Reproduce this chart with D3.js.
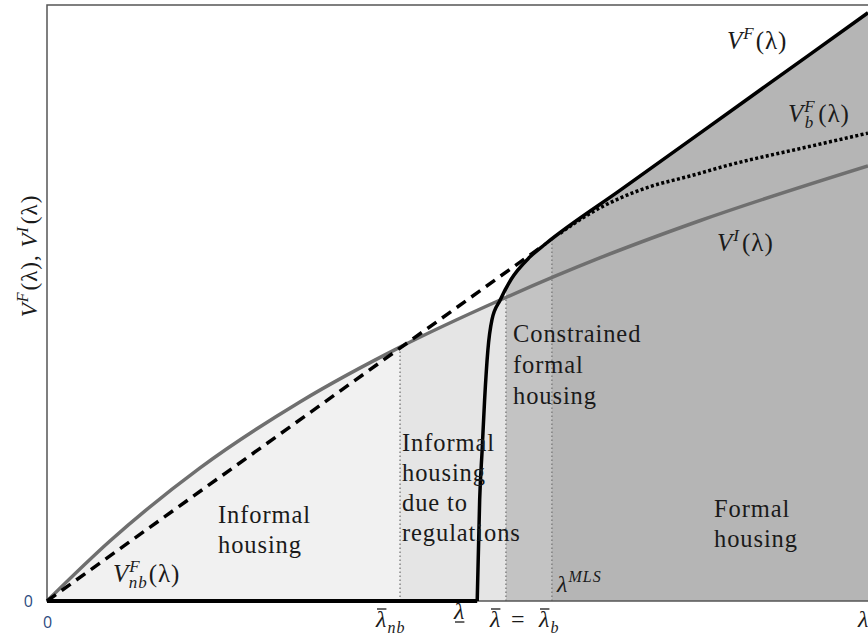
<!DOCTYPE html>
<html>
<head>
<meta charset="utf-8">
<script src="https://cdn.jsdelivr.net/npm/d3@7"></script>
<style>
  body { margin: 0; background: #fff; }
  svg { display: block; }
</style>
</head>
<body>
<svg id="chart" width="868" height="639"></svg>
<script>
// values (lambda on x, value on y, both 0..100)
const informalValue = [[0, 0], [7.7, 10.1], [18.6, 22.3], [30.8, 33.4], [43.0, 42.6],
  [55.2, 50.5], [67.4, 57.6], [79.5, 63.8], [100, 73.0]];
const formalNoBinding = [[0, 0], [60.7, 59.9]];
const formalFlat = [[0, 0], [52.4, 0]];
const formalValue = [[52.4, 0], [52.7, 17.0], [53.0, 25.3], [53.3, 33.7], [53.7, 42.1],
  [54.2, 47.2], [55.2, 50.5], [56.5, 53.9], [58.8, 57.7], [60.7, 59.9], [70, 69.1],
  [85, 83.9], [100, 98.7]];
const formalBinding = [[62.5, 61.7], [66.1, 65.0], [69.8, 67.6], [73.4, 69.5], [78.3, 71.3],
  [83.2, 73.2], [91.7, 75.9], [100, 78.5]];
// thresholds: lambda-bar_nb, lambda-bar, lambda^MLS, and the height each dotted line reaches
const cutoffs = [43.0, 55.9, 61.5];
const cutoffTops = [42.6, 50.9, 60.6];
const regionBounds = [0, 43.0, 55.9, 61.5, 104];

const serif = "'Liberation Serif', 'Times New Roman', serif";
const margin = { top: 5, left: 47 };
const svg = d3.select("#chart");

const x = d3.scaleLinear().domain([0, 100]).range([margin.left, 868]);
const y = d3.scaleLinear().domain([0, 100]).range([601, margin.top]);

const curve = d3.curveMonotoneX;
const line = d3.line().x(d => x(d[0])).y(d => y(d[1])).curve(curve);
const area = d3.area().x(d => x(d[0])).y0(y(0)).y1(d => y(d[1])).curve(curve);

// shaded regions: first two sit under V^I, the last two under V^F
const fills = ["#f1f1f1", "#e5e5e5", "#c3c3c3", "#b5b5b5"];
const defs = svg.append("defs");
regionBounds.slice(0, -1).forEach((b, i) => {
  defs.append("clipPath").attr("id", "clip" + i)
    .append("rect")
    .attr("x", x(b)).attr("y", 0)
    .attr("width", x(regionBounds[i + 1]) - x(b))
    .attr("height", y(0));
});
const formalArea = formalFlat.concat(formalValue.slice(1));
fills.forEach((f, i) => {
  svg.append("path")
    .datum(i < 2 ? informalValue : formalArea)
    .attr("clip-path", `url(#clip${i})`)
    .attr("d", area)
    .attr("fill", f);
});

// dotted threshold lines
svg.selectAll(".cut")
  .data(cutoffs)
  .enter()
  .append("line")
  .attr("class", "cut")
  .attr("x1", d => x(d)).attr("x2", d => x(d))
  .attr("y1", y(0)).attr("y2", (d, i) => y(cutoffTops[i]))
  .attr("stroke", "#777")
  .attr("stroke-width", 1.3)
  .attr("stroke-dasharray", "1.5,2.5");

// frame
svg.append("path")
  .attr("d", `M${x(104)},${y(100)}H${x(0)}V${y(0)}H${x(104)}`)
  .attr("fill", "none")
  .attr("stroke", "#555")
  .attr("stroke-width", 1.5);

// curves
svg.append("path").datum(informalValue)
  .attr("d", line).attr("fill", "none")
  .attr("stroke", "#6f6f6f").attr("stroke-width", 3.5);

svg.append("path").datum(formalNoBinding)
  .attr("d", d3.line().x(d => x(d[0])).y(d => y(d[1])))
  .attr("fill", "none").attr("stroke", "#000")
  .attr("stroke-width", 3.5).attr("stroke-dasharray", "11,7");

svg.append("path").datum(formalBinding)
  .attr("d", line).attr("fill", "none")
  .attr("stroke", "#000").attr("stroke-width", 3.5)
  .attr("stroke-dasharray", "3,2.4");

svg.append("path").datum(formalFlat)
  .attr("d", d3.line().x(d => x(d[0])).y(d => y(d[1])))
  .attr("fill", "none").attr("stroke", "#000").attr("stroke-width", 4);

svg.append("path").datum(formalValue)
  .attr("d", line).attr("fill", "none")
  .attr("stroke", "#000").attr("stroke-width", 3.5)
  .attr("stroke-linejoin", "round");

// zero tick labels
const zeroStyle = g => g.call(s => s.select(".domain").remove())
  .selectAll("text")
  .attr("font-family", "'Open Sans', sans-serif")
  .attr("font-size", 16)
  .attr("fill", "#2b4a80");
svg.append("g")
  .attr("transform", `translate(${x(0)},0)`)
  .call(d3.axisLeft(y).tickValues([0]).tickSize(0).tickPadding(14))
  .call(zeroStyle);
svg.append("g")
  .attr("transform", `translate(0,${y(0)})`)
  .call(d3.axisBottom(x).tickValues([0]).tickSize(0).tickPadding(16))
  .call(zeroStyle);

// region labels
function block(lines, px, py, step) {
  const t = svg.append("text")
    .attr("font-family", serif).attr("font-size", 24.5)
    .attr("letter-spacing", 0.9).attr("fill", "#1a1a1a");
  lines.forEach((s, i) => {
    t.append("tspan").attr("x", px).attr("y", py + i * step).text(s);
  });
}
block(["Informal", "housing"], 218, 523, 30);
block(["Informal", "housing", "due to", "regulations"], 402, 451, 30);
block(["Constrained", "formal", "housing"], 513, 342, 31);
block(["Formal", "housing"], 714, 517, 30);

// math labels: parts are [text, kind, dx] with kind "", "sup", "sub", "up"
function math(px, py, parts, size) {
  size = size || 25;
  const small = Math.round(size * 0.68);
  const t = svg.append("text")
    .attr("font-family", serif).attr("font-style", "italic")
    .attr("font-size", size).attr("letter-spacing", 1)
    .attr("fill", "#1a1a1a")
    .attr("x", px).attr("y", py);
  let shift = 0;
  parts.forEach(p => {
    const s = t.append("tspan").text(p[0]);
    let want = 0;
    if (p[1] === "sup") { want = -Math.round(size * 0.4); s.attr("font-size", small); }
    if (p[1] === "sub") { want = Math.round(size * 0.25); s.attr("font-size", small); }
    if (p[1] === "up") s.attr("font-style", "normal");
    if (p[2]) s.attr("dx", p[2]);
    s.attr("dy", want - shift);
    shift = want;
  });
  return t;
}
function bar(t, under) {
  const b = t.node().getBBox();
  const w = t.select("tspan").node().getComputedTextLength();
  const yy = under ? b.y + b.height - 2 : b.y + 3;
  svg.append("line")
    .attr("x1", b.x + 2).attr("x2", b.x + w)
    .attr("y1", yy).attr("y2", yy)
    .attr("stroke", "#1a1a1a").attr("stroke-width", 1.3);
}

math(727, 49, [["V"], ["F", "sup"], ["(λ)", "up", 1]]);
math(788, 122, [["V"], ["F", "sup"], ["b", "sub", -11], ["(λ)", "up", 4]]);
math(717, 251, [["V"], ["I", "sup"], ["(λ)", "up", 2]]);
math(113, 582, [["V"], ["F", "sup"], ["nb", "sub", -12], ["(λ)", "up", 1]]);
math(557, 592, [["λ"], ["MLS", "sup"]], 24);

bar(math(376, 627, [["λ"], ["nb", "sub"]], 24), false);
bar(math(454, 619, [["λ"]], 24), true);
bar(math(490, 627, [["λ"]], 24), false);
svg.append("text").attr("font-family", serif).attr("font-size", 24)
  .attr("fill", "#1a1a1a").attr("x", 511).attr("y", 627).text("=");
bar(math(539, 627, [["λ"], ["b", "sub"]], 24), false);
math(858, 627, [["λ"]], 24);

// y axis title
math(0, 0, [["V"], ["F", "sup"], ["(λ), ", "up", 1], ["V"], ["I", "sup"], ["(λ)", "up", 2]], 23)
  .attr("transform", "translate(37,256) rotate(-90)")
  .attr("text-anchor", "middle");
</script>
</body>
</html>
